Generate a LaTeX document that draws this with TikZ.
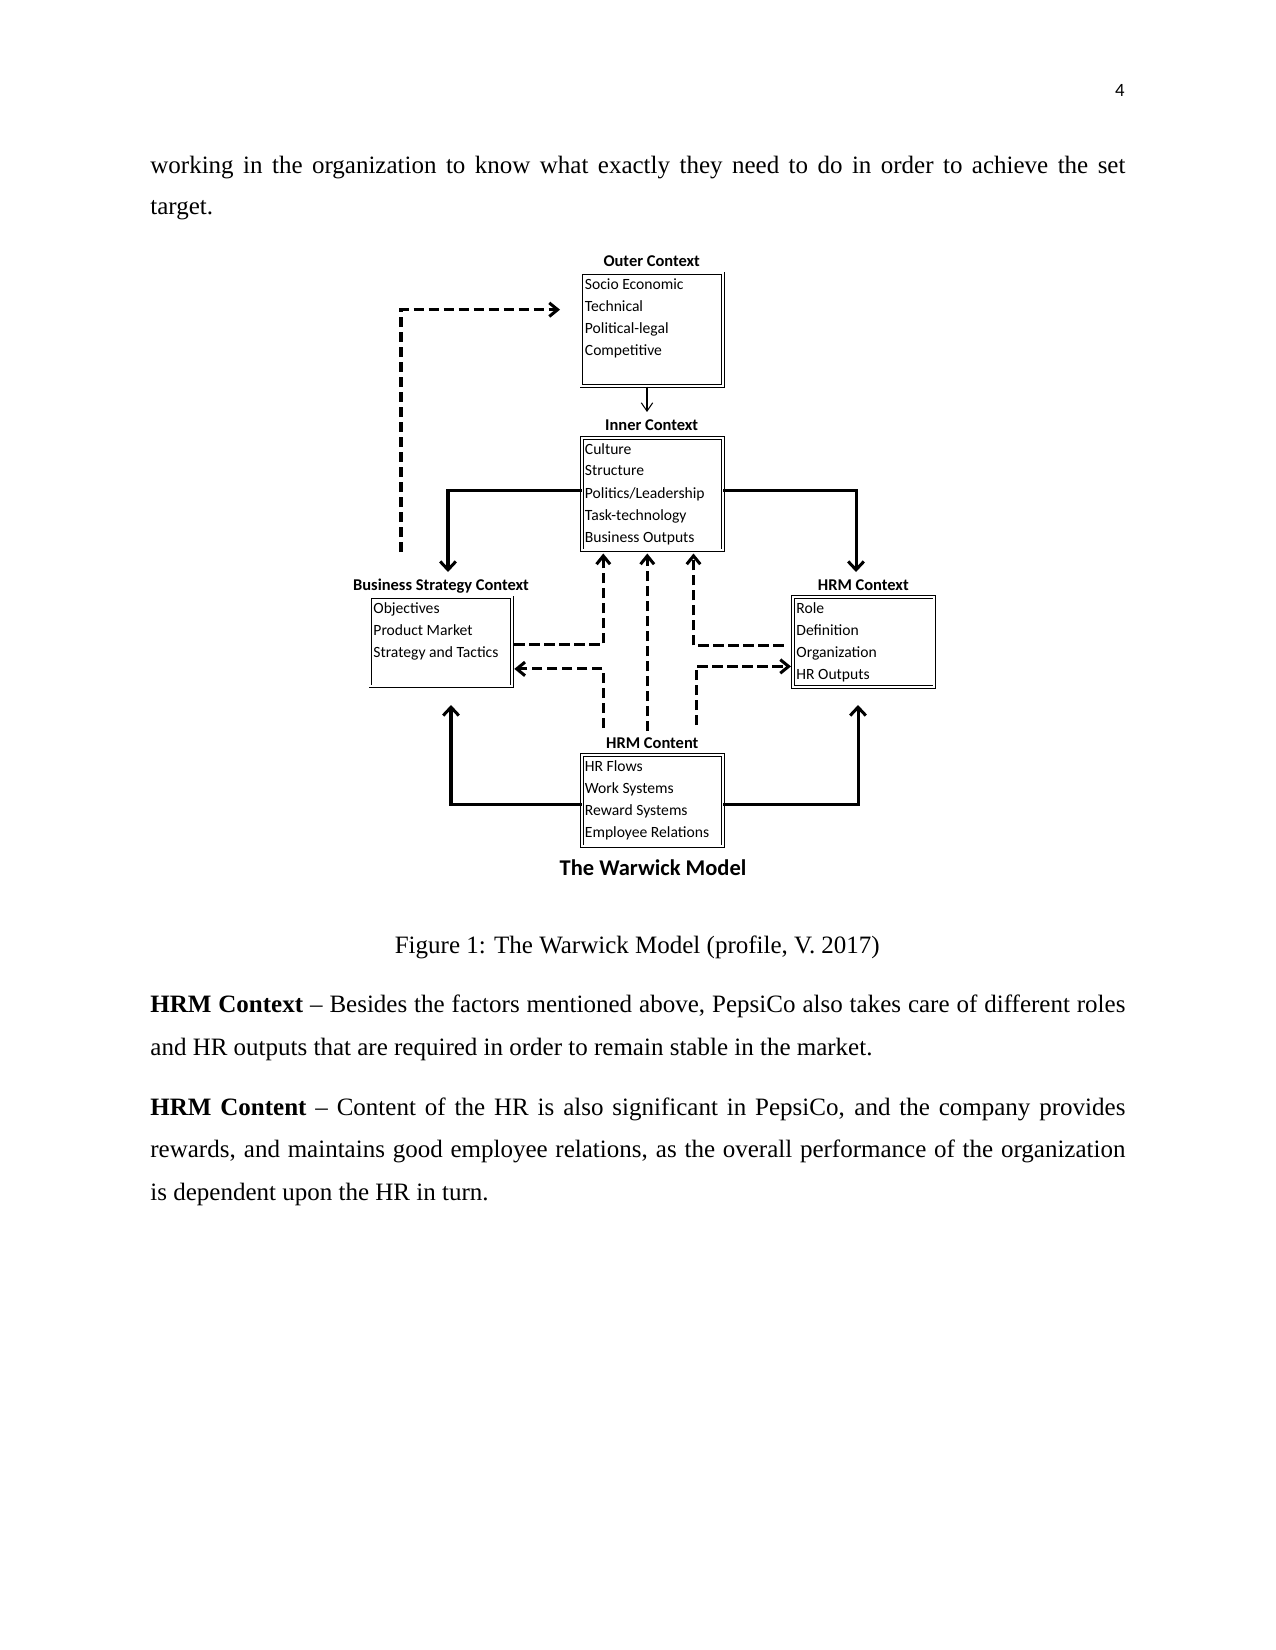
\documentclass[tikz,border=0pt]{standalone}
\usepackage{fontspec}
\setmainfont{Liberation Serif}
\newfontfamily\calibri{Carlito}
\usetikzlibrary{arrows.meta, calc, positioning}

\begin{document}
\begin{tikzpicture}[x=0.48pt, y=-0.48pt,
    ctxbox/.style={draw, double, line width=0.4pt, double distance=1pt, anchor=north west, inner sep=0pt},
    ctxtitle/.style={font=\calibri\bfseries\fontsize{7.9}{9}\selectfont, anchor=base, inner sep=0pt},
    ctxitem/.style={font=\calibri\fontsize{7.5}{9}\selectfont, anchor=base west, inner sep=0pt},
    solidarrow/.style={line width=1.45pt, -{Straight Barb[length=4pt, width=7.5pt]}},
    dasharrow/.style={line width=1.45pt, dash pattern=on 5pt off 2.2pt, -{Straight Barb[length=4pt, width=6.5pt]}},
    bodyline/.style={font=\fontsize{12}{14}\selectfont, anchor=base west, inner sep=0pt}]

    % Page
    \fill[white] (0,0) rectangle (1275,1650);
    \useasboundingbox (0,0) rectangle (1275,1650);
    \node[font=\calibri\fontsize{9}{11}\selectfont, anchor=base east, inner sep=0pt] (pagenum) at (1125,96.7) {4};

    % Text above the figure
    \node[bodyline] (topl1) at (150,173.3) {\makebox[468pt][s]{working in the organization to know what exactly they need to do in order to achieve the set}};
    \node[bodyline] (topl2) at (150,215) {target.};

    % Boxes
    \node[ctxbox, minimum width=68pt, minimum height=54.2pt] (outer) at (581,273) {};
    \node[ctxbox, minimum width=67.7pt, minimum height=54pt] (inner) at (581.5,437.5) {};
    \node[ctxbox, minimum width=67.9pt, minimum height=42.7pt] (bsc) at (370,597) {};
    \node[ctxbox, minimum width=67.9pt, minimum height=43.2pt] (hrmctx) at (792.5,596.5) {};
    \node[ctxbox, minimum width=67.7pt, minimum height=43.9pt] (hrmcnt) at (581.5,754.5) {};

    % Titles
    \node[ctxtitle] (outerttl) at (651.7,267) {Outer Context};
    \node[ctxtitle] (innerttl) at (651.7,431) {Inner Context};
    \node[ctxtitle] (bscttl) at (441,590) {Business Strategy Context};
    \node[ctxtitle] (hrmctxttl) at (863.3,590) {HRM Context};
    \node[ctxtitle] (hrmcntttl) at (652.3,748.5) {HRM Content};

    % Box contents
    \foreach \txt [count=\i from 0] in {Socio Economic,Technical,Political-legal,Competitive}
        \node[ctxitem] (outer-\i) at (584.5,290+22*\i) {\txt};
    \foreach \txt [count=\i from 0] in {Culture,Structure,Politics/Leadership,Task-technology,Business Outputs}
        \node[ctxitem] (inner-\i) at (584.5,454+22*\i) {\txt};
    \foreach \txt [count=\i from 0] in {Objectives,Product Market,Strategy and Tactics}
        \node[ctxitem] (bsc-\i) at (373,613.3+22*\i) {\txt};
    \foreach \txt [count=\i from 0] in {Role,Definition,Organization,HR Outputs}
        \node[ctxitem] (hrmctx-\i) at (796,613.3+22*\i) {\txt};
    \foreach \txt [count=\i from 0] in {HR Flows,Work Systems,Reward Systems,Employee Relations}
        \node[ctxitem] (hrmcnt-\i) at (584.5,771.7+22*\i) {\txt};

    % Free ends
    \coordinate (o2i) at (647,412);
    \coordinate (fbstart) at (401,552);
    \coordinate (bsctip) at (448,572);
    \coordinate (ctxtip) at (856,572);
    \coordinate (bscbot) at (451,705);
    \coordinate (ctxbot) at (858,705);
    \coordinate (tipA) at (603.3,553.5);
    \coordinate (startB) at (603.3,728);
    \coordinate (tipC) at (647.3,553.5);
    \coordinate (startC) at (647.3,731);
    \coordinate (tipD) at (693.5,553.5);
    \coordinate (startE) at (696,725);

    % Outer -> Inner
    \draw[line width=0.5pt, -{Straight Barb[length=4pt, width=5.5pt]}] (outer.south -| o2i) -- (o2i);

    % Feedback to outer context
    \draw[dasharrow] (fbstart) |- ($(outer.west)+(-21,-20.2)$);

    % Inner context out to both sides
    \draw[solidarrow] ($(inner.west)+(0,-3.5)$) -| (bsctip);
    \draw[solidarrow] ($(inner.east)+(0,-3.5)$) -| (ctxtip);

    % HRM content up to both sides
    \draw[solidarrow] ($(hrmcnt.west)+(0,3.5)$) -| (bscbot);
    \draw[solidarrow] ($(hrmcnt.east)+(0,3.5)$) -| (ctxbot);

    % Dashed links in the middle
    \draw[dasharrow] ($(bsc.east)+(2,2.5)$) -| (tipA);
    \draw[dasharrow] (startB) |- ($(bsc.east)+(2,27)$);
    \draw[dasharrow] (startC) -- (tipC);
    \draw[dasharrow] ($(hrmctx.west)+(-9,3.5)$) -| (tipD);
    \draw[dasharrow] (startE) |- ($(hrmctx.west)+(-1.5,24.5)$);

    \node[font=\calibri\bfseries\fontsize{10.8}{13}\selectfont, anchor=base, inner sep=0pt] (model) at (653,875.5) {The Warwick Model};

    % Caption and text below
    \node[bodyline, anchor=base] (caption) at (637.3,953) {Figure 1: The Warwick Model (profile, V. 2017)};
    \node[bodyline] (ctxl1) at (150,1012.3) {\makebox[468pt][s]{\textbf{HRM Context} – Besides the factors mentioned above, PepsiCo also takes care of different roles}};
    \node[bodyline] (ctxl2) at (150,1055) {and HR outputs that are required in order to remain stable in the market.};
    \node[bodyline] (cntl1) at (150,1115) {\makebox[468pt][s]{\textbf{HRM Content} – Content of the HR is also significant in PepsiCo, and the company provides}};
    \node[bodyline] (cntl2) at (150,1157.3) {\makebox[468pt][s]{rewards, and maintains good employee relations, as the overall performance of the organization}};
    \node[bodyline] (cntl3) at (150,1200.7) {is dependent upon the HR in turn.};
\end{tikzpicture}
\end{document}
